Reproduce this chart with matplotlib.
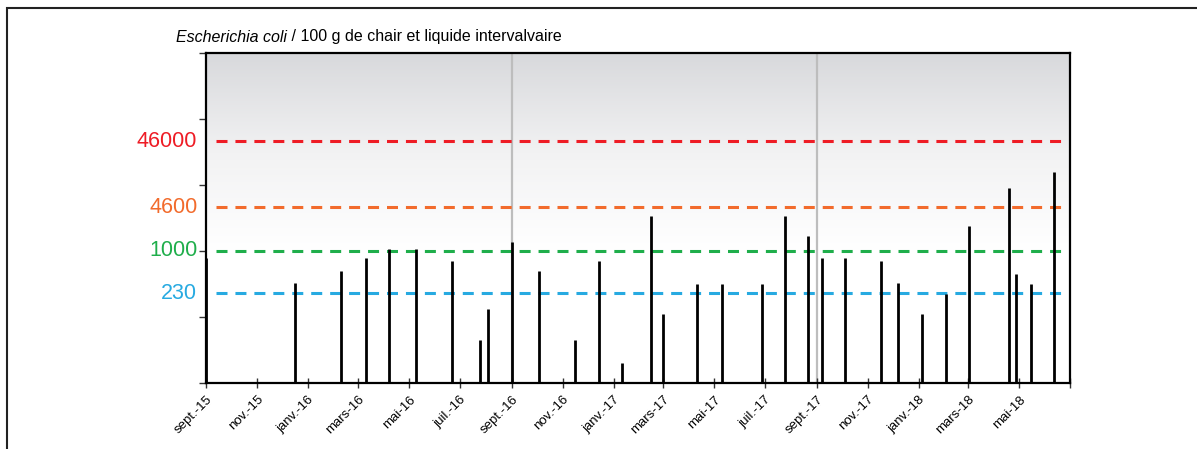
import matplotlib
matplotlib.use("Agg")
import matplotlib.pyplot as plt
from matplotlib.patches import Rectangle
import numpy as np
import pandas as pd

plt.rcParams['font.family'] = ['Liberation Sans', 'DejaVu Sans']

# sampling dates and E. coli counts (per 100 g)
dates = ['2015-09-01', '2015-12-16', '2016-02-09', '2016-03-10', '2016-04-07',
         '2016-05-09', '2016-06-22', '2016-07-25', '2016-08-03', '2016-09-01',
         '2016-10-03', '2016-11-16', '2016-12-14', '2017-01-11', '2017-02-14',
         '2017-03-01', '2017-04-11', '2017-05-10', '2017-06-27', '2017-07-25',
         '2017-08-21', '2017-09-07', '2017-10-05', '2017-11-17', '2017-12-07',
         '2018-01-05', '2018-02-03', '2018-03-02', '2018-04-19', '2018-04-27',
         '2018-05-15', '2018-06-12']
counts = [780, 330, 490, 790, 1080,
          1080, 700, 45, 130, 1380,
          490, 45, 700, 20, 3450,
          110, 320, 320, 320, 3450,
          1670, 780, 780, 700, 330,
          110, 220, 2380, 9000, 450,
          320, 15500]

thresholds = [46000, 4600, 1000, 230]
threshold_labels = ['46000', '4600', '1000', '230']
threshold_colors = ['#ee1c25', '#f26b2c', '#1fae4b', '#27aae1']

tick_dates = pd.date_range('2015-09-01', '2018-07-01', freq='2MS')
tick_labels = ['sept.-15', 'nov.-15', 'janv.-16', 'mars-16', 'mai-16', 'juil.-16',
               'sept.-16', 'nov.-16', 'janv.-17', 'mars-17', 'mai-17', 'juil.-17',
               'sept.-17', 'nov.-17', 'janv.-18', 'mars-18', 'mai-18', '']

season_lines = ['2016-09-01', '2017-09-01']

title_italic = 'Escherichia coli'
title_rest = ' / 100 g de chair et liquide intervalvaire'

W, H = 1197, 449
fig = plt.figure(figsize=(W / 100, H / 100), dpi=100)
ax = fig.add_axes([206 / W, 1 - 383 / H, (1070 - 206) / W, (383 - 53) / H])

ax.set_xlim(pd.Timestamp('2015-09-01'), pd.Timestamp('2018-07-01'))
ax.set_yscale('log')
ax.set_ylim(10, 1e6)

# grey-to-white gradient in the upper part of the plot
yy = np.linspace(1, 0, 200)
g = np.clip((yy - 0.40) / 0.60, 0, 1)
grad = np.column_stack([g, g])
cmap = matplotlib.colors.LinearSegmentedColormap.from_list('g', ['#ffffff', '#f2f2f3', '#d8d9dc'])
ax.imshow(grad, extent=[0, 1, 0, 1], transform=ax.transAxes, aspect='auto',
          cmap=cmap, vmin=0, vmax=1, zorder=0, interpolation='bilinear')

for d in season_lines:
    ax.axvline(pd.Timestamp(d), color='#bdbdbd', lw=1.6, zorder=1)

for v, c in zip(thresholds, threshold_colors):
    ax.axhline(v, xmin=0.012, xmax=0.998, color=c, lw=2.2,
               linestyle=(0, (3.6, 2.6)), zorder=2)

ax.vlines(pd.to_datetime(dates), 10, counts, color='black', lw=2, zorder=3)

for s in ['left', 'bottom', 'top', 'right']:
    ax.spines[s].set_linewidth(1.6)
    ax.spines[s].set_zorder(5)

ax.set_yticks([10, 100, 1000, 1e4, 1e5, 1e6])
ax.set_yticklabels([])
ax.yaxis.set_minor_locator(matplotlib.ticker.NullLocator())
ax.tick_params(axis='y', direction='out', length=5, width=1, color='#333333')

ax.set_xticks(tick_dates)
ax.set_xticklabels(tick_labels, rotation=45, ha='right', rotation_mode='anchor', fontsize=9.5)
ax.tick_params(axis='x', direction='inout', length=7, width=1, color='#333333', pad=4)

for v, lab, c in zip(thresholds, threshold_labels, threshold_colors):
    ax.text(-0.01, v, lab, transform=ax.get_yaxis_transform(), ha='right', va='center',
            fontsize=15.5, color=c)

# title: italic species name followed by plain text
t1 = fig.text(176 / W, 1 - 37 / H, title_italic, style='italic', fontsize=11.5, va='center')
fig.canvas.draw()
bb = t1.get_window_extent(renderer=fig.canvas.get_renderer())
fig.text(bb.x1 / W, 1 - 37 / H, title_rest, fontsize=11.5, va='center')

# outer frame
fig.patches.append(Rectangle((7 / W, -0.1), 1.2, 1.1 - 8 / H, transform=fig.transFigure,
                             fill=False, lw=1.5, edgecolor='#222222'))

fig.savefig('out.png', dpi=100)
